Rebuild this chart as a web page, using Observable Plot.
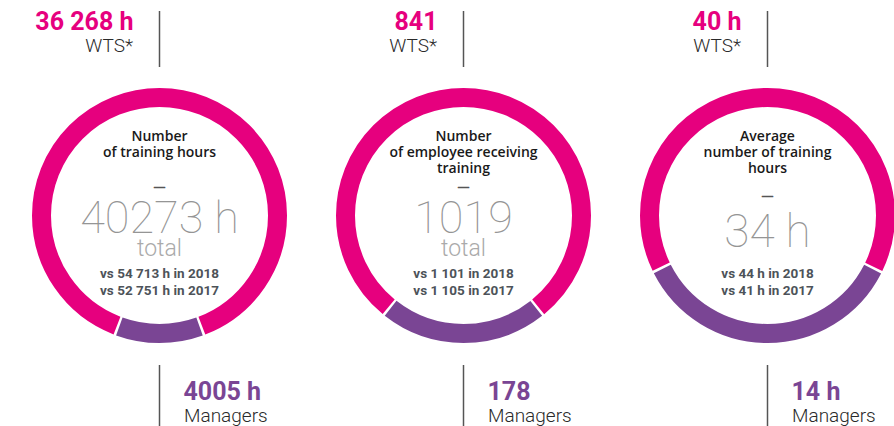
<!DOCTYPE html>
<html>
<head>
<meta charset="utf-8">
<script src="https://cdn.jsdelivr.net/npm/d3@7"></script>
<script src="https://cdn.jsdelivr.net/npm/@observablehq/plot@0.6"></script>
<style>
  html, body { margin: 0; padding: 0; background: #fff; }
  #chart svg { display: block; }
</style>
</head>
<body>
<div id="chart"></div>
<script>
// ---- data ----
const metrics = [
  "Number\nof training hours",
  "Number\nof employee receiving\ntraining",
  "Average\nnumber of training\nhours"
];
const totalLabels = ["40273 h", "1019", "34 h"];
const totalSubs = ["total", "total", ""];
const seriesNames = ["WTS*", "Managers"];
const wtsValues = [36268, 841, 40];
const wtsLabels = ["36 268 h", "841", "40 h"];
const managerValues = [4005, 178, 14];
const managerLabels = ["4005 h", "178", "14 h"];
const vs2018 = ["vs 54 713 h in 2018", "vs 1 101 in 2018", "vs 44 h in 2018"];
const vs2017 = ["vs 52 751 h in 2017", "vs 1 105 in 2017", "vs 41 h in 2017"];

// ---- table ----
const donuts = metrics.map((m, i) => ({
  i, metric: m, total: totalLabels[i], sub: totalSubs[i],
  wts: wtsValues[i], wtsLabel: wtsLabels[i],
  mgr: managerValues[i], mgrLabel: managerLabels[i],
  vs: vs2018[i] + "\n" + vs2017[i]
}));

// ---- style ----
const PINK = "#E6007E";
const PURPLE = "#7A4594";
const R = 118, RING = 19, GAP = 1.2;
const C = 2 * Math.PI * R;

function dashAttrs(startDeg, lenDeg) {
  const L = C * lenDeg / 360;
  return {strokeDasharray: `${L} ${C - L}`, strokeDashoffset: -C * startDeg / 360};
}

const ringMarks = donuts.flatMap(d => {
  const theta = 360 * d.mgr / d.wts;           // managers share relative to WTS
  const purple = dashAttrs(90 - theta / 2, theta);
  const pink = dashAttrs(90 + theta / 2 + GAP, 360 - theta - 2 * GAP);
  return [
    Plot.dot([d], {x: "i", y: 0, r: R, fill: "none", stroke: PINK, strokeWidth: RING, ...pink}),
    Plot.dot([d], {x: "i", y: 0, r: R, fill: "none", stroke: PURPLE, strokeWidth: RING, ...purple})
  ];
});

const withSub = donuts.filter(d => d.sub);
const noSub = donuts.filter(d => !d.sub);

const chart = Plot.plot({
  width: 894,
  height: 426,
  margin: 0,
  x: {type: "linear", domain: [0, 2], range: [159, 767], axis: null},
  y: {type: "linear", domain: [-1, 1], range: [430, 0], axis: null},
  marks: [
    ...ringMarks,
    // connector rules
    Plot.ruleX(donuts, {x: "i", stroke: "#555", strokeWidth: 1.5, insetTop: 11, insetBottom: 359}),
    Plot.ruleX(donuts, {x: "i", stroke: "#555", strokeWidth: 1.5, insetTop: 365, insetBottom: 0}),
    // WTS labels
    Plot.text(donuts, {x: "i", y: 0, text: "wtsLabel", textAnchor: "end", lineAnchor: "bottom",
      dx: -26, dy: -185.5, fill: PINK, fontSize: 25, fontWeight: 700, fontFamily: "Roboto"}),
    Plot.text(donuts, {x: "i", y: 0, text: () => seriesNames[0], textAnchor: "end", lineAnchor: "bottom",
      dx: -26.5, dy: -163.5, fill: "#2a2a2a", fontSize: 19, fontWeight: 300, fontFamily: "Roboto"}),
    // Managers labels
    Plot.text(donuts, {x: "i", y: 0, text: "mgrLabel", textAnchor: "start", lineAnchor: "bottom",
      dx: 24, dy: 184, fill: PURPLE, fontSize: 25, fontWeight: 700, fontFamily: "Roboto"}),
    Plot.text(donuts, {x: "i", y: 0, text: () => seriesNames[1], textAnchor: "start", lineAnchor: "bottom",
      dx: 24.5, dy: 206.5, fill: "#2a2a2a", fontSize: 19, fontWeight: 300, fontFamily: "Roboto"}),
    // metric titles
    Plot.text(donuts, {x: "i", y: 0, text: "metric", textAnchor: "middle", lineAnchor: "top",
      lineHeight: 16 / 14, dy: -85.7, fill: "#1a1a1a", fontSize: 14, fontWeight: 600, fontFamily: "Open Sans"}),
    // dash + big total (with "total" sub-label)
    Plot.text(withSub, {x: "i", y: 0, text: () => "\u2014", textAnchor: "middle", lineAnchor: "middle",
      dy: -28.5, fill: "#555", stroke: "#555", strokeWidth: 0.4, fontSize: 12, fontFamily: "Open Sans"}),
    Plot.text(withSub, {x: "i", y: 0, text: "total", textAnchor: "middle", lineAnchor: "bottom",
      dy: 17.5, fill: "#959595", fontSize: 45, fontWeight: 100, fontFamily: "Roboto"}),
    Plot.text(withSub, {x: "i", y: 0, text: "sub", textAnchor: "middle", lineAnchor: "bottom",
      dy: 40, fill: "#aaa", fontSize: 23, fontWeight: 300, fontFamily: "Roboto"}),
    // dash + big total (no sub-label)
    Plot.text(noSub, {x: "i", y: 0, text: () => "\u2014", textAnchor: "middle", lineAnchor: "middle",
      dy: -19, fill: "#555", stroke: "#555", strokeWidth: 0.4, fontSize: 12, fontFamily: "Open Sans"}),
    Plot.text(noSub, {x: "i", y: 0, text: "total", textAnchor: "middle", lineAnchor: "bottom",
      dy: 31.7, fill: "#959595", fontSize: 46, fontWeight: 100, fontFamily: "Roboto"}),
    // comparison lines
    Plot.text(donuts, {x: "i", y: 0, text: "vs", textAnchor: "middle", lineAnchor: "bottom",
      lineHeight: 16.6 / 13.5, dy: 79.3, fill: "#4d5359", fontSize: 13.5, fontWeight: 700, fontFamily: "Roboto"})
  ]
});

document.getElementById("chart").append(chart);
</script>
</body>
</html>
